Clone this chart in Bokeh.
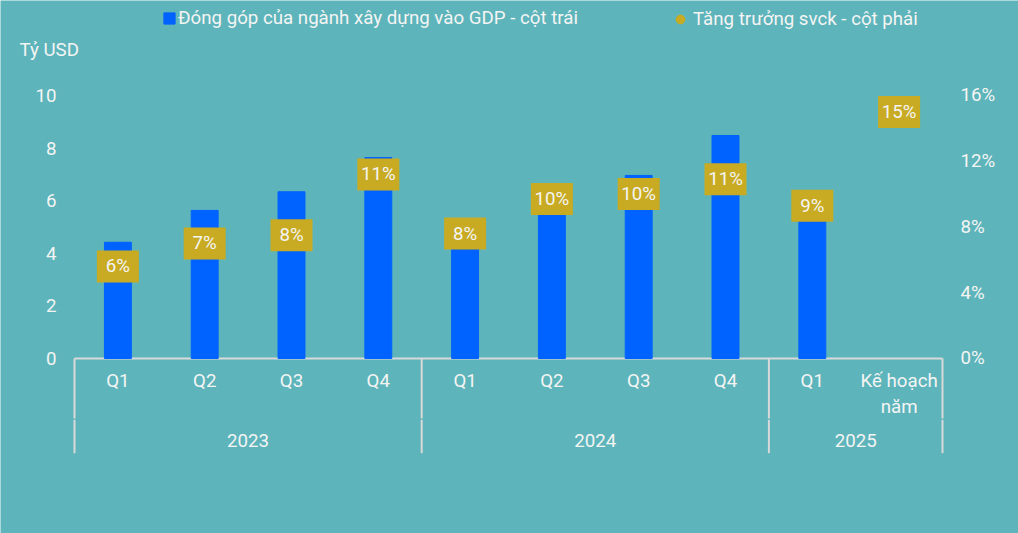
from bokeh.plotting import figure
from bokeh.models import Range1d, LinearAxis, FixedTicker, Legend, LegendItem, Label, ColumnDataSource
from bokeh.core.properties import value
from bokeh.embed import file_html
from bokeh.resources import INLINE

# ---------------- data ----------------
years = ["2023", "2024", "2025"]
year_sizes = [4, 4, 2]
periods = ["Q1", "Q2", "Q3", "Q4", "Q1", "Q2", "Q3", "Q4", "Q1", "Kế hoạch\nnăm"]
contribution = [4.42, 5.63, 6.34, 7.64, 4.7, 6.0, 6.96, 8.48, 5.8, None]   # Tỷ USD
growth = [5.6, 7.0, 7.5, 11.2, 7.6, 9.7, 10.0, 10.9, 9.3, 15.0]           # %
left_ticks = [0, 2, 4, 6, 8, 10]
right_ticks = [0, 4, 8, 12, 16]
series_names = ["Đóng góp của ngành xây dựng vào GDP - cột trái", "Tăng trưởng svck - cột phải"]
unit_label = "Tỷ USD"

# ---------------- style ----------------
BG = "#5DB4BA"
BLUE = "#0062FF"
GOLD = "#C8AB22"
TXT = "#F4F4F4"
GRAYLINE = "#D9D9D9"
FONT = "Roboto"
FS = "18.7px"

n = len(periods)
xc = [i + 0.5 for i in range(n)]

W, H = 1018, 533
PX = 86.8            # px per category slot
X0 = -74 / PX
X1 = (W - 74) / PX
Y0, Y1 = -6.654, 13.612
p = figure(width=W, height=H, x_range=Range1d(X0, X1), y_range=Range1d(Y0, Y1),
           output_backend="svg", toolbar_location=None, title=None,
           x_axis_location=None, y_axis_location="left",
           min_border_left=0, min_border_right=0, min_border_top=0, min_border_bottom=0,
           background_fill_color=BG, border_fill_color=BG, outline_line_color=None)
p.grid.visible = False
p.extra_y_ranges = {"pct": Range1d(Y0 * 1.6, Y1 * 1.6)}

def style_axis(a):
    a.axis_line_color = None
    a.major_tick_line_color = None
    a.minor_tick_line_color = None
    a.major_tick_out = 0
    a.major_tick_in = 0
    a.minor_tick_out = 0
    a.minor_tick_in = 0
    a.major_label_text_font = FONT
    a.major_label_text_font_size = FS
    a.major_label_text_color = TXT
    a.major_label_standoff = 18

# left axis (drawn at the left edge of the category area)
ax = p.yaxis[0]
ax.fixed_location = 0
ax.ticker = FixedTicker(ticks=left_ticks)
style_axis(ax)

# right axis
rax = LinearAxis(y_range_name="pct", ticker=FixedTicker(ticks=right_ticks),
                 major_label_overrides={t: f"{t}%" for t in right_ticks},
                 fixed_location=n)
style_axis(rax)
p.add_layout(rax, "right")

# category axis lines (grouped, Excel style)
bounds = [0]
for s in year_sizes:
    bounds.append(bounds[-1] + s)
p.segment(x0=[0], y0=[0], x1=[n], y1=[0], line_color=GRAYLINE, line_width=2)
p.segment(x0=bounds, y0=[0] * len(bounds), x1=bounds, y1=[-2.28] * len(bounds),
          line_color=GRAYLINE, line_width=2)
p.segment(x0=bounds, y0=[-2.33] * len(bounds), x1=bounds, y1=[-3.6] * len(bounds),
          line_color=GRAYLINE, line_width=2)

# bars
bx = [x for x, v in zip(xc, contribution) if v is not None]
bv = [v for v in contribution if v is not None]
bars = p.vbar(x=bx, top=bv, bottom=0, width=0.31, fill_color=BLUE, line_color=BLUE)

# growth labels (boxes)
gl = [f"{g:.0f}%" for g in growth]
src = ColumnDataSource(dict(x=xc, y=growth, t=gl))
p.rect(x="x", y="y", width=42, height=32, width_units="screen", height_units="screen",
       source=src, y_range_name="pct", fill_color=GOLD, line_color=None)
p.text(x="x", y="y", text="t", source=src, y_range_name="pct", text_align="center",
       text_baseline="middle", text_color=TXT, text_font=value(FONT), text_font_size=FS)

# legend-only marker for growth series (size 0 on the plot)
dummy = p.scatter(x="x", y="y", source=src, y_range_name="pct", marker="circle", size=0,
                  fill_color=GOLD, line_color=GOLD)

# category labels
p.text(x=xc, y=[-0.456] * n, text=periods, text_align="center", text_baseline="top",
       text_color=TXT, text_font=value(FONT), text_font_size=FS, text_line_height=1.18)
ycent = []
for i, s in enumerate(year_sizes):
    ycent.append((bounds[i] + bounds[i + 1]) / 2)
p.text(x=ycent, y=[-3.12] * len(years), text=years, text_align="center", text_baseline="middle",
       text_color=TXT, text_font=value(FONT), text_font_size=FS)

# legends
def mk_leg(items, loc, gw, gh):
    lg = Legend(items=items, location=loc, orientation="horizontal",
                padding=0, margin=0, spacing=0, label_standoff=2,
                glyph_width=gw, glyph_height=gh, label_height=20,
                background_fill_alpha=0, border_line_alpha=0,
                label_text_font=FONT, label_text_font_size=FS, label_text_color=TXT)
    return lg

p.add_layout(mk_leg([LegendItem(label=series_names[0], renderers=[bars])], (162, 504), 14, 14))
p.add_layout(mk_leg([LegendItem(label=series_names[1], renderers=[dummy])], (669, 503), 22, 22))

p.add_layout(Label(x=19, y=484, x_units="screen", y_units="screen", text=unit_label,
                   text_baseline="middle", text_color=TXT, text_font=FONT, text_font_size=FS))

open("out.html", "w").write(file_html(p, INLINE))
